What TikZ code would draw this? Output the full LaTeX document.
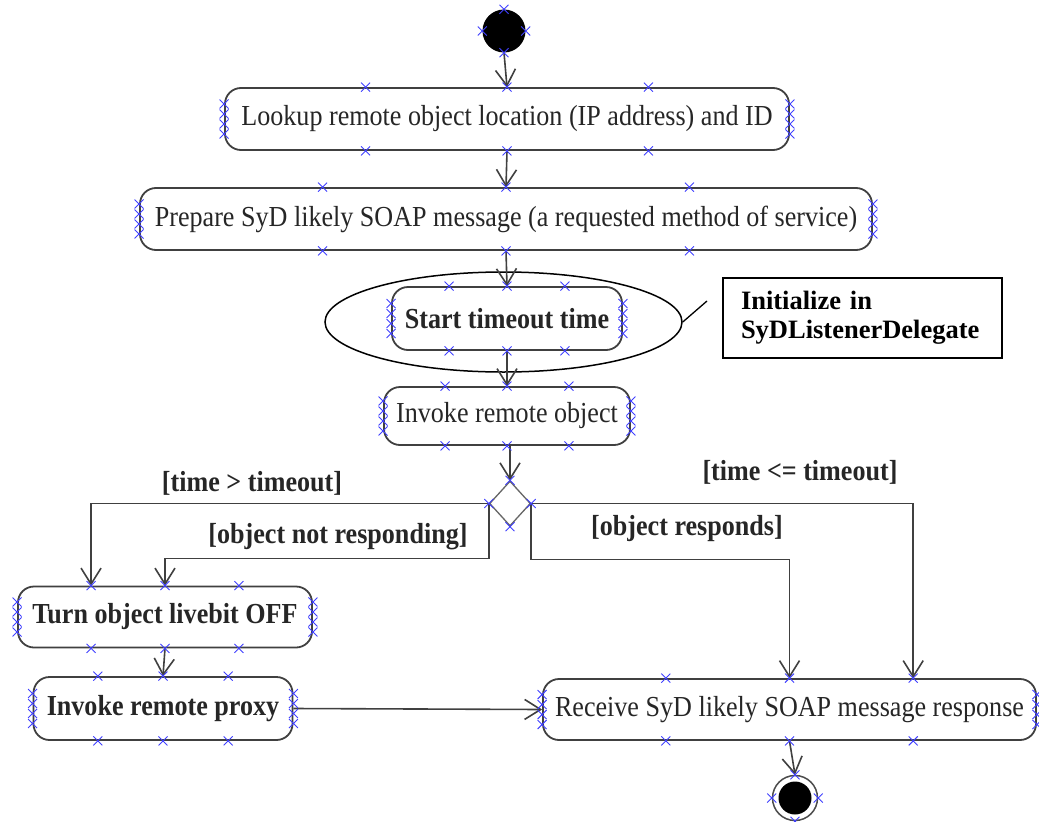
\documentclass[tikz,border=0pt]{standalone}
\usepackage{fontspec}
\setmainfont{Liberation Serif}[FakeStretch=0.9]
\newfontfamily\notefont{Liberation Serif}
\usetikzlibrary{arrows.meta,shapes.geometric,calc}

\tikzset{
  handle/.style={draw=blue!75!white, line width=0.9pt},
  xmark/.pic={\draw[handle] (-4.5pt,-4.5pt) -- (4.5pt,4.5pt) (-4.5pt,4.5pt) -- (4.5pt,-4.5pt);},
  activity/.style={draw=black!75, line width=1.8pt, rounded corners=16pt, fill=white,
    inner sep=0pt, font=\fontsize{29}{32}\selectfont, text=black!85},
  strong/.style={font=\fontsize{29}{32}\selectfont\bfseries},
  flow/.style={draw=black!75, line width=1.6pt, -{Straight Barb[length=16pt,width=20pt]}},
  guard/.style={font=\fontsize{29}{32}\selectfont\bfseries, text=black!85, inner sep=0pt},
  notebox/.style={draw=black, line width=1.5pt, minimum width=279pt, minimum height=80pt,
    inner xsep=18pt, inner ysep=0pt, text width=243pt, align=left,
    font=\notefont\fontsize{26.5}{29}\selectfont\bfseries},
}

% selection handles around an activity box
\newcommand\boxhandles[1]{%
  \foreach \f in {0.25,0.5,0.75}{
    \pic at ($(#1.north west)!\f!(#1.north east)$) {xmark};
    \pic at ($(#1.south west)!\f!(#1.south east)$) {xmark};
  }
  \foreach \d in {-15,-5,5,15}{
    \pic at ($(#1.west)+(0,\d)$) {xmark};
    \pic at ($(#1.east)+(0,\d)$) {xmark};
  }
}
\newcommand\pointhandles[1]{%
  \foreach \a in {north,south,east,west}{
    \pic at (#1.\a) {xmark};
  }
}

\begin{document}
\begin{tikzpicture}[x=1pt,y=-1pt]
  \fill[white] (0,0) rectangle (1039,822);
  \useasboundingbox (0,0) rectangle (1039,822);

  % initial node
  \node[circle, fill=black, minimum size=43pt, inner sep=0pt] (start) at (504,31) {};

  % activities
  \node[activity, minimum width=564pt, minimum height=62pt] (lookup) at (507,119)
    {Lookup remote object location (IP address) and ID};
  \node[activity, minimum width=732pt, minimum height=62pt] (prepare) at (506,219)
    {Prepare SyD likely SOAP message (a requested method of service)};
  \node[activity, strong, minimum width=230pt, minimum height=63pt] (timer) at (507,318.5)
    {Start timeout time};
  \node[activity, minimum width=246pt, minimum height=58pt] (invoke) at (507,416)
    {Invoke remote object};
  \node[diamond, draw=black!60, line width=1.3pt, fill=white, inner sep=0pt,
    minimum width=41pt, minimum height=45pt] (dia) at (510,503.5) {};
  \node[activity, strong, minimum width=294pt, minimum height=61pt] (turn) at (165,617)
    {Turn object livebit OFF};
  \node[activity, strong, minimum width=259pt, minimum height=63pt] (proxy) at (163,708.5)
    {Invoke remote proxy};
  \node[activity, minimum width=493pt, minimum height=61pt] (receive) at (789.5,709.5)
    {Receive SyD likely SOAP message response};

  % final node
  \node[circle, draw=black!70, line width=1.5pt, minimum size=45pt, inner sep=0pt] (final) at (795,798) {};
  \fill[black] (final.center) circle (16.5pt);

  % annotation
  \node[ellipse, draw=black, line width=1.5pt, minimum width=357pt, minimum height=100pt,
    inner sep=0pt] (halo) at (503.5,322) {};
  \node[notebox] (note) at (862.5,318) {Initialize in\\SyDListenerDelegate};
  \coordinate (tip) at (707,301);
  \draw[black, line width=1.3pt] (halo.east) -- (tip);

  % control flow
  \draw[flow] (start.south) -- (lookup.north);
  \draw[flow] (lookup.south) -- (prepare.north);
  \draw[flow] (prepare.south) -- (timer.north);
  \draw[flow] (timer.south) -- (invoke.north);
  \draw[flow] (invoke.south -| dia.north) -- (dia.north);

  \coordinate (turnq) at ($(turn.north west)!0.25!(turn.north east)$);
  \coordinate (recq) at ($(receive.north west)!0.75!(receive.north east)$);
  \draw[flow] (dia.west) -| (turnq);
  \draw[flow] (dia.west) -- ++(0,55) -| (turn.north);
  \draw[flow] (dia.east) -| (recq);
  \draw[flow] (dia.east) -- ++(0,56) -| (receive.north);

  \draw[flow] (turn.south) -- (proxy.north);
  \draw[flow] (proxy.east) -- (receive.west);
  \draw[flow] (receive.south) -- (final.north);

  % guards
  \node[guard] (g1) at (252,483) {[time > timeout]};
  \node[guard] (g2) at (338,537) {[object not responding]};
  \node[guard] (g3) at (800,472) {[time <= timeout]};
  \node[guard] (g4) at (687,529) {[object responds]};

  % selection handles
  \pointhandles{start}
  \boxhandles{lookup}
  \boxhandles{prepare}
  \boxhandles{timer}
  \boxhandles{invoke}
  \pointhandles{dia}
  \boxhandles{turn}
  \boxhandles{proxy}
  \boxhandles{receive}
  \pointhandles{final}
\end{tikzpicture}
\end{document}
